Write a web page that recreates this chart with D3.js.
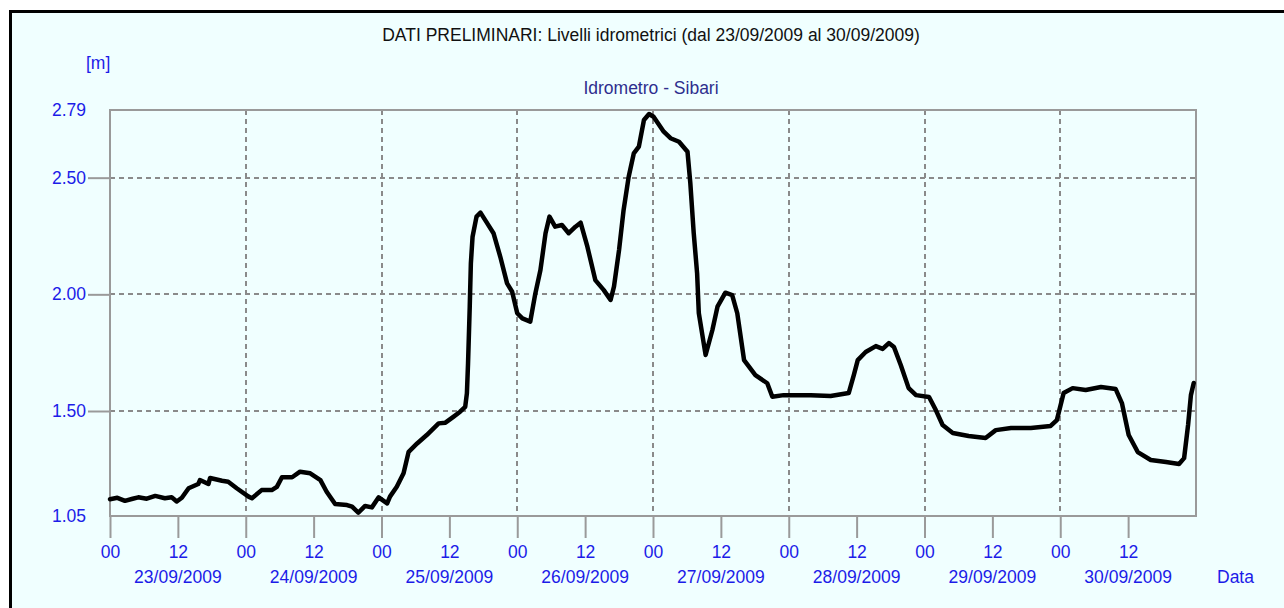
<!DOCTYPE html>
<html>
<head>
<meta charset="utf-8">
<script src="https://cdn.jsdelivr.net/npm/d3@7"></script>
<style>
  html, body { margin: 0; padding: 0; background: #ffffff; }
  svg { display: block; }
  text { font-family: "Liberation Sans", Arial, sans-serif; }
</style>
</head>
<body>
<svg id="chart" width="1284" height="608"></svg>
<script>
// ---------- DATA ----------
const titleText = "DATI PRELIMINARI: Livelli idrometrici (dal 23/09/2009 al 30/09/2009)";
const subtitleText = "Idrometro - Sibari";
const unitLabel = "[m]";
const xAxisName = "Data";
const startDate = new Date(2009, 8, 23, 0, 0);
const endDate = new Date(2009, 9, 1, 0, 0);
const dayLabels = ["23/09/2009", "24/09/2009", "25/09/2009", "26/09/2009",
                   "27/09/2009", "28/09/2009", "29/09/2009", "30/09/2009"];
const yTicks = [1.05, 1.50, 2.00, 2.50, 2.79];
const yGrid = [1.50, 2.00, 2.50];
// hours elapsed since 23/09/2009 00:00
const hours = [
  0, 1.3, 2.65, 4.0, 5.0, 6.5, 8.0, 9.7, 10.9, 11.8, 12.7, 13.9, 15.6, 15.9, 17.4, 17.7,
  19.8, 20.9, 22.4, 24.5, 25.1, 26.8, 28.6, 29.5, 30.4, 32.2, 33.6, 35.4, 37.2, 38.3,
  39.8, 41.9, 42.8, 43.9, 45.1, 46.3, 47.5, 49.0, 49.5, 50.7, 51.9, 52.8, 54.3, 56.0,
  58.1, 59.3, 60.7, 61.9, 62.8, 63.1, 63.3, 63.6, 63.8, 64.1, 64.8, 65.5, 66.7, 67.8,
  69.0, 70.2, 71.1, 72.0, 72.9, 74.3, 75.2, 76.1, 77.0, 77.7, 78.7, 79.9, 81.1, 82.3,
  83.2, 84.4, 85.8, 87.3, 88.5, 89.1, 90.0, 90.8, 91.7, 92.6, 93.5, 94.4, 95.3, 96.1,
  97.9, 99.1, 100.6, 102.1, 102.6, 103.2, 103.8, 104.1, 105.3, 106.5, 107.4, 108.8,
  110.0, 110.9, 112.1, 114.1, 116.2, 117.1, 119.1, 120.9, 123.9, 127.4, 130.6, 131.5,
  132.2, 133.6, 135.4, 136.6, 137.7, 138.6, 139.8, 141.2, 142.5, 144.8, 146.0, 147.2,
  149.0, 151.8, 154.8, 156.6, 159.3, 162.8, 166.3, 167.4, 168.6, 170.2, 172.5, 175.2,
  177.8, 178.9, 180.1, 181.7, 184.0, 186.7, 189.0, 189.9, 190.6, 191.1, 191.6
];
const levels = [
  1.122, 1.128, 1.115, 1.124, 1.130, 1.124, 1.136, 1.126, 1.130, 1.112, 1.128, 1.169, 1.187, 1.204, 1.187, 1.213,
  1.201, 1.197, 1.169, 1.133, 1.126, 1.161, 1.161, 1.175, 1.216, 1.216, 1.240, 1.233, 1.204, 1.154,
  1.101, 1.097, 1.090, 1.064, 1.093, 1.087, 1.130, 1.104, 1.133, 1.175, 1.233, 1.325, 1.361, 1.397,
  1.447, 1.450, 1.475, 1.497, 1.518, 1.576, 1.704, 1.947, 2.133, 2.247, 2.333, 2.350, 2.304, 2.262,
  2.161, 2.047, 2.011, 1.919, 1.897, 1.883, 2.004, 2.104, 2.262, 2.333, 2.290, 2.297, 2.262, 2.290,
  2.307, 2.204, 2.061, 2.018, 1.976, 2.033, 2.190, 2.361, 2.504, 2.604, 2.633, 2.747, 2.773, 2.761,
  2.697, 2.669, 2.654, 2.611, 2.476, 2.262, 2.090, 1.919, 1.740, 1.847, 1.947, 2.007,
  1.997, 1.919, 1.718, 1.654, 1.619, 1.561, 1.568, 1.568, 1.568, 1.564, 1.577, 1.654,
  1.718, 1.753, 1.778, 1.766, 1.791, 1.774, 1.697, 1.598, 1.568, 1.560, 1.504, 1.440,
  1.406, 1.393, 1.384, 1.418, 1.427, 1.427, 1.436, 1.461, 1.577, 1.598, 1.590, 1.603,
  1.594, 1.534, 1.397, 1.324, 1.290, 1.281, 1.273, 1.298, 1.440, 1.568, 1.620
];

// ---------- LAYOUT ----------
const W = 1284, H = 608;
const plot = { left: 110, top: 110, right: 1196, bottom: 516 };
const blue = "#1c1ce8";
const frameGray = "#9a9a9a";
const gridGray = "#8a8a8a";
const bg = "#f0ffff";
const fs = 17.5;

const svg = d3.select("#chart");

// outer frame
svg.append("rect").attr("x", 9).attr("y", 10).attr("width", W).attr("height", H).attr("fill", "#000");
svg.append("rect").attr("x", 12).attr("y", 13).attr("width", W).attr("height", H).attr("fill", bg);

const data = hours.map((h, i) => ({ t: d3.timeMinute.offset(startDate, Math.round(h * 60)), v: levels[i] }));

const x = d3.scaleTime().domain([startDate, endDate]).range([plot.left, plot.right]);
const y = d3.scaleLinear().domain([yTicks[0], yTicks[yTicks.length - 1]]).range([plot.bottom, plot.top]);

// grid lines
const gridG = svg.append("g").attr("stroke", gridGray).attr("stroke-width", 2).attr("stroke-dasharray", "5,4");
gridG.selectAll("line.h").data(yGrid).join("line")
  .attr("x1", plot.left).attr("x2", plot.right)
  .attr("y1", d => Math.round(y(d))).attr("y2", d => Math.round(y(d)));
const dayBounds = d3.timeDay.range(d3.timeDay.offset(startDate, 1), endDate);
gridG.selectAll("line.v").data(dayBounds).join("line")
  .attr("y1", plot.top).attr("y2", plot.bottom)
  .attr("x1", d => Math.round(x(d))).attr("x2", d => Math.round(x(d)));

// x axis
const xAxis = d3.axisBottom(x)
  .tickValues(d3.timeHour.every(12).range(startDate, endDate))
  .tickFormat(d3.timeFormat("%H"))
  .tickSize(22).tickPadding(8);
const gx = svg.append("g").attr("transform", `translate(0,${plot.bottom})`).call(xAxis);
gx.select(".domain").remove();
gx.selectAll(".tick line").attr("stroke", frameGray).attr("stroke-width", 2);
gx.selectAll(".tick text").attr("fill", blue).attr("font-size", fs)
  .attr("font-family", "'Liberation Sans', Arial, sans-serif");

// date labels under noon ticks
svg.append("g").selectAll("text").data(dayLabels).join("text")
  .attr("x", (d, i) => x(d3.timeHour.offset(d3.timeDay.offset(startDate, i), 12)))
  .attr("y", 583)
  .attr("text-anchor", "middle")
  .attr("fill", blue).attr("font-size", fs)
  .text(d => d);

svg.append("text").attr("x", 1217).attr("y", 583).attr("fill", blue).attr("font-size", fs).text(xAxisName);

// y axis
const yAxis = d3.axisLeft(y).tickValues(yTicks).tickFormat(d3.format(".2f")).tickSize(22).tickPadding(2);
const gy = svg.append("g").attr("transform", `translate(${plot.left},0)`).call(yAxis);
gy.select(".domain").remove();
gy.selectAll(".tick line").attr("stroke", frameGray).attr("stroke-width", 2)
  .attr("display", d => yGrid.includes(d) ? null : "none");
gy.selectAll(".tick text").attr("fill", blue).attr("font-size", fs)
  .attr("font-family", "'Liberation Sans', Arial, sans-serif");

// plot frame
svg.append("rect")
  .attr("x", plot.left).attr("y", plot.top)
  .attr("width", plot.right - plot.left).attr("height", plot.bottom - plot.top)
  .attr("fill", "none").attr("stroke", frameGray).attr("stroke-width", 2);

// data line
const line = d3.line().x(d => x(d.t)).y(d => y(d.v));
svg.append("path").datum(data)
  .attr("d", line)
  .attr("fill", "none").attr("stroke", "#000").attr("stroke-width", 4.5)
  .attr("stroke-linejoin", "round").attr("stroke-linecap", "round");

// titles
svg.append("text").attr("x", 651).attr("y", 41).attr("text-anchor", "middle")
  .attr("fill", "#111").attr("font-size", fs).text(titleText);
svg.append("text").attr("x", 651).attr("y", 94).attr("text-anchor", "middle")
  .attr("fill", "#2e2e8e").attr("font-size", fs).text(subtitleText);
svg.append("text").attr("x", 86).attr("y", 69).attr("fill", blue).attr("font-size", fs).text(unitLabel);
</script>
</body>
</html>
